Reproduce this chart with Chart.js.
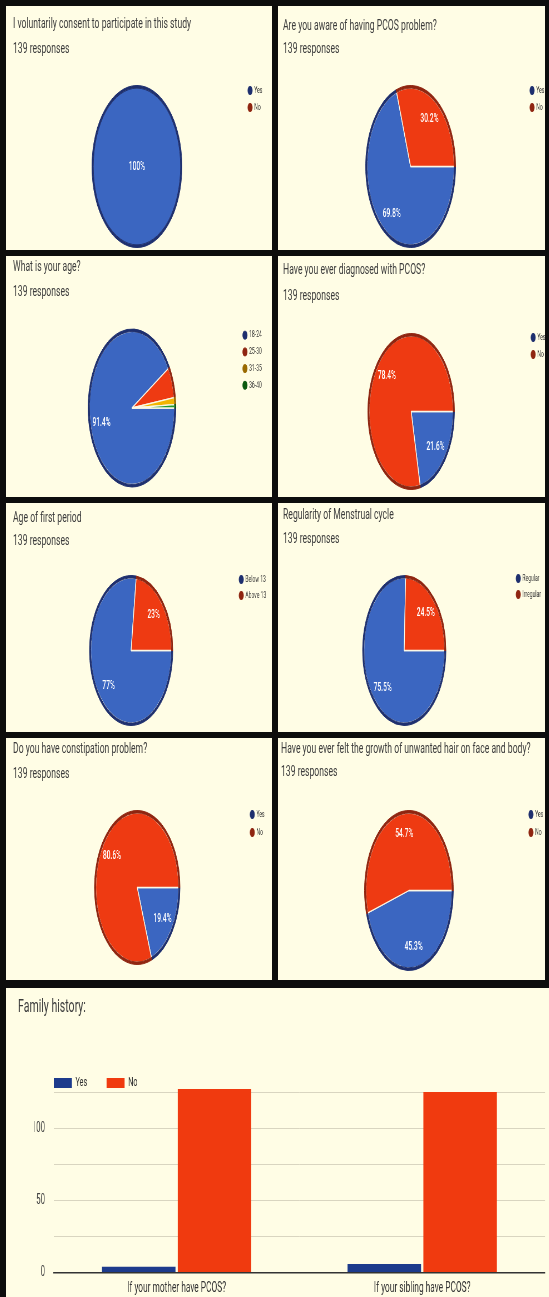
<!DOCTYPE html>
<html>
<head>
<meta charset="utf-8">
<title>PCOS survey responses</title>
<script src="https://cdn.jsdelivr.net/npm/chart.js@4.4.0/dist/chart.umd.min.js"></script>
<style>
html, body { margin: 0; padding: 0; }
body { width: 549px; height: 1297px; background: #0d0d0d; position: relative; overflow: hidden; font-family: Roboto, Arial, sans-serif; }
.panel { position: absolute; background: #fffde5; overflow: hidden; }
.inner { position: absolute; left: 0; top: 0; transform-origin: 0 0; }
.txt { position: absolute; white-space: nowrap; color: #3c3c3c; }
.box { position: absolute; }
.box canvas { display: block; }
</style>
</head>
<body>
<script>
// answers per question (139 responses each)
const consentLabels = ['Yes', 'No'];
const consentCounts = [139, 0];

const awareLabels = ['Yes', 'No'];
const awareCounts = [97, 42];

const ageLabels = ['18-24', '25-30', '31-35', '36-40'];
const ageCounts = [127, 9, 2, 1];

const diagnosedLabels = ['Yes', 'No'];
const diagnosedCounts = [30, 109];

const periodLabels = ['Below 13', 'Above 13'];
const periodCounts = [107, 32];

const cycleLabels = ['Regular', 'Irregular'];
const cycleCounts = [105, 34];

const constipationLabels = ['Yes', 'No'];
const constipationCounts = [27, 112];

const hairLabels = ['Yes', 'No'];
const hairCounts = [63, 76];

// family history bar chart
const familyCategories = ['If your mother have PCOS?', 'If your sibling have PCOS?'];
const familyYes = [4, 6];
const familyNo = [127, 125];
const familyTicks = [0, 50, 100];

// colours
const fillCols = ['#3b66c1', '#ee3a12', '#f2b400', '#1f9a2a'];
const ringCols = ['#1e2f6e', '#8f2510', '#9a6a00', '#0c5a10'];

// the source picture is squeezed sideways, so every panel is drawn wide and scaled
const SX = 0.556;

const pies = [
  {title: 'I voluntarily consent to participate in this study', labels: consentLabels, counts: consentCounts,
   box: [6, 6, 266, 244], cx: 131, cy: 160, r: 81, lx: 244, ly: 84, gap: 17, tx: 7, ty: 17, ry: 42},
  {title: 'Are you aware of having PCOS problem?', labels: awareLabels, counts: awareCounts,
   box: [278, 6, 267, 244], cx: 132.5, cy: 160, r: 81, lx: 254, ly: 84, gap: 17, tx: 5, ty: 19, ry: 42},
  {title: 'What is your age?', labels: ageLabels, counts: ageCounts,
   box: [6, 256, 266, 241], cx: 126, cy: 152, r: 79, lx: 239, ly: 79, gap: 16.7, tx: 7, ty: 10, ry: 35},
  {title: 'Have you ever diagnosed with PCOS?', labels: diagnosedLabels, counts: diagnosedCounts,
   box: [278, 256, 267, 241], cx: 133, cy: 155, r: 78, lx: 255, ly: 81, gap: 17, tx: 5, ty: 13, ry: 39},
  {title: 'Age of first period', labels: periodLabels, counts: periodCounts,
   box: [6, 503, 266, 229], cx: 125, cy: 147, r: 75, lx: 235, ly: 76, gap: 16, tx: 7, ty: 14, ry: 37},
  {title: 'Regularity of Menstrual cycle', labels: cycleLabels, counts: cycleCounts,
   box: [278, 503, 267, 229], cx: 126, cy: 147, r: 75, lx: 240, ly: 75, gap: 16, tx: 5, ty: 11, ry: 35},
  {title: 'Do you have constipation problem?', labels: constipationLabels, counts: constipationCounts,
   box: [6, 738, 266, 242], cx: 131, cy: 149, r: 77, lx: 246, ly: 76, gap: 18, tx: 7, ty: 10, ry: 35},
  {title: 'Have you ever felt the growth of unwanted hair on face and body?', labels: hairLabels, counts: hairCounts,
   box: [278, 738, 267, 242], cx: 131, cy: 152, r: 80, lx: 253, ly: 76, gap: 18, tx: 3, ty: 10, ry: 33}
];

Chart.defaults.font.family = 'Roboto, Arial, sans-serif';
Chart.defaults.color = '#333';

const meas = document.createElement('canvas').getContext('2d');

function makePanel(x, y, w, h) {
  const panel = document.createElement('div');
  panel.className = 'panel';
  panel.style.left = x + 'px';
  panel.style.top = y + 'px';
  panel.style.width = w + 'px';
  panel.style.height = h + 'px';
  const inner = document.createElement('div');
  inner.className = 'inner';
  inner.style.width = (w / SX) + 'px';
  inner.style.height = h + 'px';
  inner.style.transform = 'scaleX(' + SX + ')';
  panel.appendChild(inner);
  document.body.appendChild(panel);
  return inner;
}

function addText(parent, text, x, yMid, size) {
  const d = document.createElement('div');
  d.className = 'txt';
  d.textContent = text;
  d.style.left = x + 'px';
  d.style.top = (yMid - size * 0.6) + 'px';
  d.style.fontSize = size + 'px';
  d.style.lineHeight = (size * 1.2) + 'px';
  parent.appendChild(d);
}

function addCanvas(parent, left, top, w, h) {
  const d = document.createElement('div');
  d.className = 'box';
  d.style.left = left + 'px';
  d.style.top = top + 'px';
  const cv = document.createElement('canvas');
  cv.width = w;
  cv.height = h;
  d.appendChild(cv);
  parent.appendChild(d);
  return cv;
}

function fmtPct(share) {
  let s = (share * 100).toFixed(1);
  if (s.endsWith('.0')) s = s.slice(0, -2);
  return s + '%';
}

// percentage text inside the slices
const pctLabels = {
  id: 'pctLabels',
  afterDatasetsDraw(chart) {
    const vals = chart.data.datasets[1].data;
    const total = vals.reduce((a, b) => a + b, 0);
    const meta = chart.getDatasetMeta(1);
    const r = chart.options.radius;
    const ctx = chart.ctx;
    ctx.save();
    ctx.fillStyle = '#ffffff';
    ctx.font = '500 12px Roboto, Arial, sans-serif';
    ctx.textAlign = 'center';
    ctx.textBaseline = 'middle';
    meta.data.forEach((arc, i) => {
      const share = vals[i] / total;
      if (share < 0.1) return;
      const a = arc.getProps(['x', 'y', 'startAngle', 'endAngle'], true);
      let px = a.x, py = a.y;
      if (share < 1) {
        const mid = (a.startAngle + a.endAngle) / 2;
        px = a.x + Math.cos(mid) * r * 0.72;
        py = a.y + Math.sin(mid) * r * 0.72;
      }
      ctx.fillText(fmtPct(share), px, py);
    });
    ctx.restore();
  }
};

function drawPie(p) {
  const [bx, by, bw, bh] = p.box;
  const inner = makePanel(bx, by, bw, bh);
  const total = p.counts.reduce((a, b) => a + b, 0);
  addText(inner, p.title, p.tx / SX, p.ty, 15.5);
  addText(inner, total + ' responses', p.tx / SX, p.ry, 15.5);

  const fs = 9, boxW = 6;
  const pad = p.gap - fs;
  const legLeft = p.lx / SX - pad - boxW / 2;
  meas.font = fs + 'px Roboto, Arial, sans-serif';
  const tw = Math.max(...p.labels.map(t => meas.measureText(t).width));
  const legW = pad + boxW + fs / 2 + tw + 10;
  const cx = p.cx / SX;
  const left = 2 * cx - legLeft;
  const top = p.ly - pad - fs / 2;
  const w = Math.round(legLeft + legW - left);
  const h = Math.round(2 * (p.cy - top));
  const cv = addCanvas(inner, left, top, w, h);

  const n = p.labels.length;
  const full = p.counts.some(v => v === total);
  new Chart(cv, {
    type: 'pie',
    data: {
      labels: p.labels,
      datasets: [
        {data: p.counts, backgroundColor: ringCols.slice(0, n), borderColor: ringCols.slice(0, n), borderWidth: 1, weight: 1},
        {data: p.counts, backgroundColor: fillCols.slice(0, n), borderColor: '#fbf8e6', borderWidth: full ? 0 : 1.3, weight: 30}
      ]
    },
    options: {
      responsive: false,
      animation: false,
      events: [],
      rotation: 90,
      radius: p.r,
      layout: {padding: 0},
      plugins: {
        legend: {
          position: 'right',
          align: 'start',
          labels: {usePointStyle: true, pointStyle: 'circle', boxWidth: boxW, boxHeight: 5.66, padding: pad, color: '#333', font: {size: fs}}
        },
        tooltip: {enabled: false}
      }
    },
    plugins: [pctLabels]
  });
}

function drawFamily() {
  const bx = 6, by = 988, bw = 543, bh = 309;
  const inner = makePanel(bx, by, bw, bh);
  addText(inner, 'Family history:', 12 / SX, 18, 19);
  const W = Math.round(bw / SX);
  const cv = addCanvas(inner, 0, 0, W, bh);
  new Chart(cv, {
    type: 'bar',
    data: {
      labels: familyCategories,
      datasets: [
        {label: 'Yes', data: familyYes, backgroundColor: '#1d3b8c', clip: false},
        {label: 'No', data: familyNo, backgroundColor: '#f03a0f', clip: false}
      ]
    },
    options: {
      responsive: false,
      animation: false,
      events: [],
      layout: {padding: {left: 51, top: 53.5, right: W - 969.4, bottom: 0}},
      datasets: {bar: {categoryPercentage: 0.617, barPercentage: 0.97}},
      plugins: {
        legend: {
          position: 'top',
          align: 'start',
          maxHeight: 50.5,
          labels: {boxWidth: 32.4, boxHeight: 10, padding: 35, color: '#333', font: {size: 13}}
        },
        tooltip: {enabled: false}
      },
      scales: {
        x: {
          grid: {display: false, drawTicks: false},
          border: {color: '#333', width: 1.5},
          ticks: {color: '#333', padding: 7, font: {size: 15}},
          afterFit: s => { s.height = 23; }
        },
        y: {
          min: 0,
          max: 125,
          grid: {drawTicks: false, color: c => (c.tick && c.tick.value === 0) ? '#333' : '#d9d5c0'},
          border: {display: false},
          ticks: {stepSize: 25, padding: 16, color: '#444', font: {size: 14},
            callback: v => familyTicks.includes(v) ? v : ''},
          afterFit: s => { s.width = 35; }
        }
      }
    }
  });
}

pies.forEach(drawPie);
drawFamily();
</script>
</body>
</html>
